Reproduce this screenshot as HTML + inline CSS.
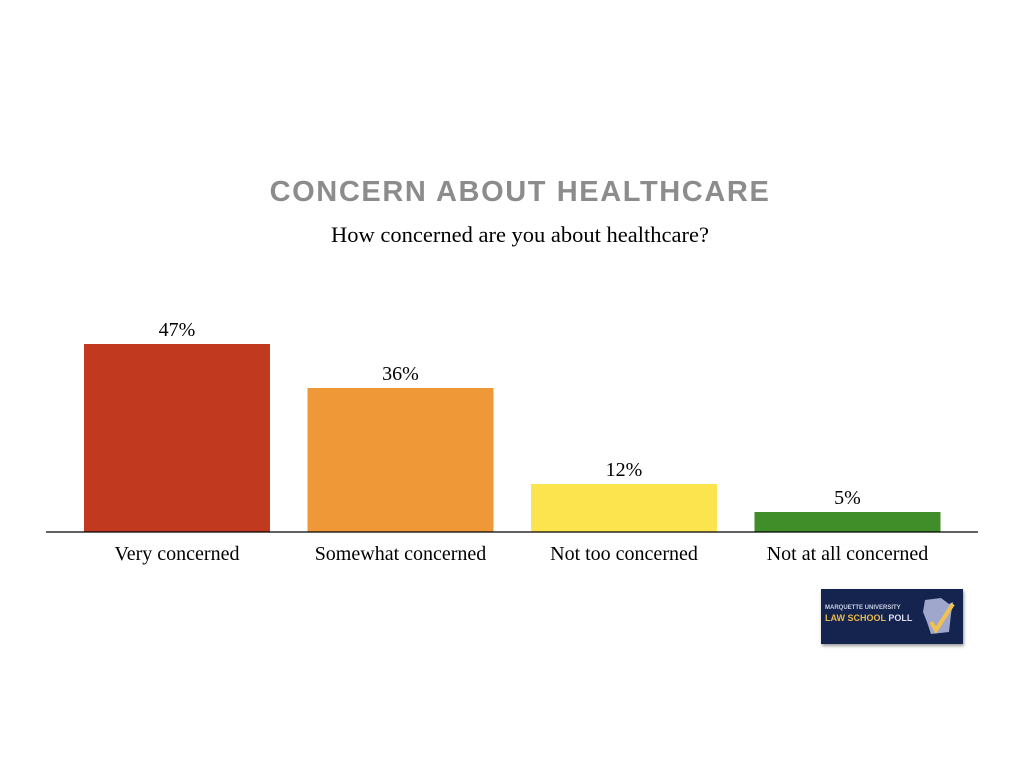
<!DOCTYPE html>
<html><head><meta charset="utf-8"><style>
body{margin:0;background:#fff;width:1024px;height:768px;overflow:hidden;position:relative;font-family:"Liberation Serif",serif}
.t{position:absolute;left:0;width:1040px;text-align:center}
</style></head><body>
<div class="t" style="top:176px;font-family:'Liberation Sans',sans-serif;font-weight:bold;font-size:29px;color:#8c8c8c;letter-spacing:1.6px">CONCERN ABOUT HEALTHCARE</div>
<div class="t" style="top:222px;font-size:22.5px;color:#000">How concerned are you about healthcare?</div>
<svg id="c" width="1024" height="768" style="position:absolute;left:0;top:0"></svg>
<div style="position:absolute;left:821px;top:589px;width:142px;height:55px;background:#14244f;box-shadow:1px 2px 3px #999">
<div style="position:absolute;left:4px;top:16px;font-family:'Liberation Sans',sans-serif;font-size:6px;font-weight:bold;color:#c8cce0">MARQUETTE UNIVERSITY</div>
<div style="position:absolute;left:4px;top:24px;font-family:'Liberation Sans',sans-serif;font-size:9px;font-weight:bold;color:#e8b84a">LAW SCHOOL <span style="color:#dde">POLL</span></div>
<svg style="position:absolute;left:98px;top:7px" width="40" height="42"><path d="M6 4 L22 2 L30 8 L34 6 L32 18 L30 36 L12 38 L8 26 L4 16Z" fill="#9fa8cc"/><path d="M12 26 L17 34 L34 8" stroke="#f2c14e" stroke-width="4" fill="none"/></svg>
</div>
<script>
const categories=["Very concerned","Somewhat concerned","Not too concerned","Not at all concerned"];
const values=[47,36,12,5];
const labels=["47%","36%","12%","5%"];
const colors=["#c1391e","#ef9838","#fbe44e","#3f8e2a"];
const svg=document.getElementById('c');const NS="http://www.w3.org/2000/svg";
const base=532,scale=4;
const y=v=>base-v*scale;const x=i=>84+i*223.5;
function mk(t,a){const e=document.createElementNS(NS,t);for(const k in a)e.setAttribute(k,a[k]);svg.appendChild(e);return e;}
values.forEach((v,i)=>{
const r=mk('rect',{x:x(i),y:y(v),width:186,height:base-y(v),fill:colors[i]});


const t=mk('text',{x:x(i)+93,y:y(v)-8,'text-anchor':'middle','font-size':20,'font-family':'Liberation Serif,serif'});t.textContent=labels[i];


const c=mk('text',{x:x(i)+93,y:560,'text-anchor':'middle','font-size':20,'font-family':'Liberation Serif,serif'});c.textContent=categories[i];


});
const a=mk('line',{x1:46,x2:978,y1:base,y2:base,stroke:'#000','stroke-width':1.2});


</script>
</body></html>
